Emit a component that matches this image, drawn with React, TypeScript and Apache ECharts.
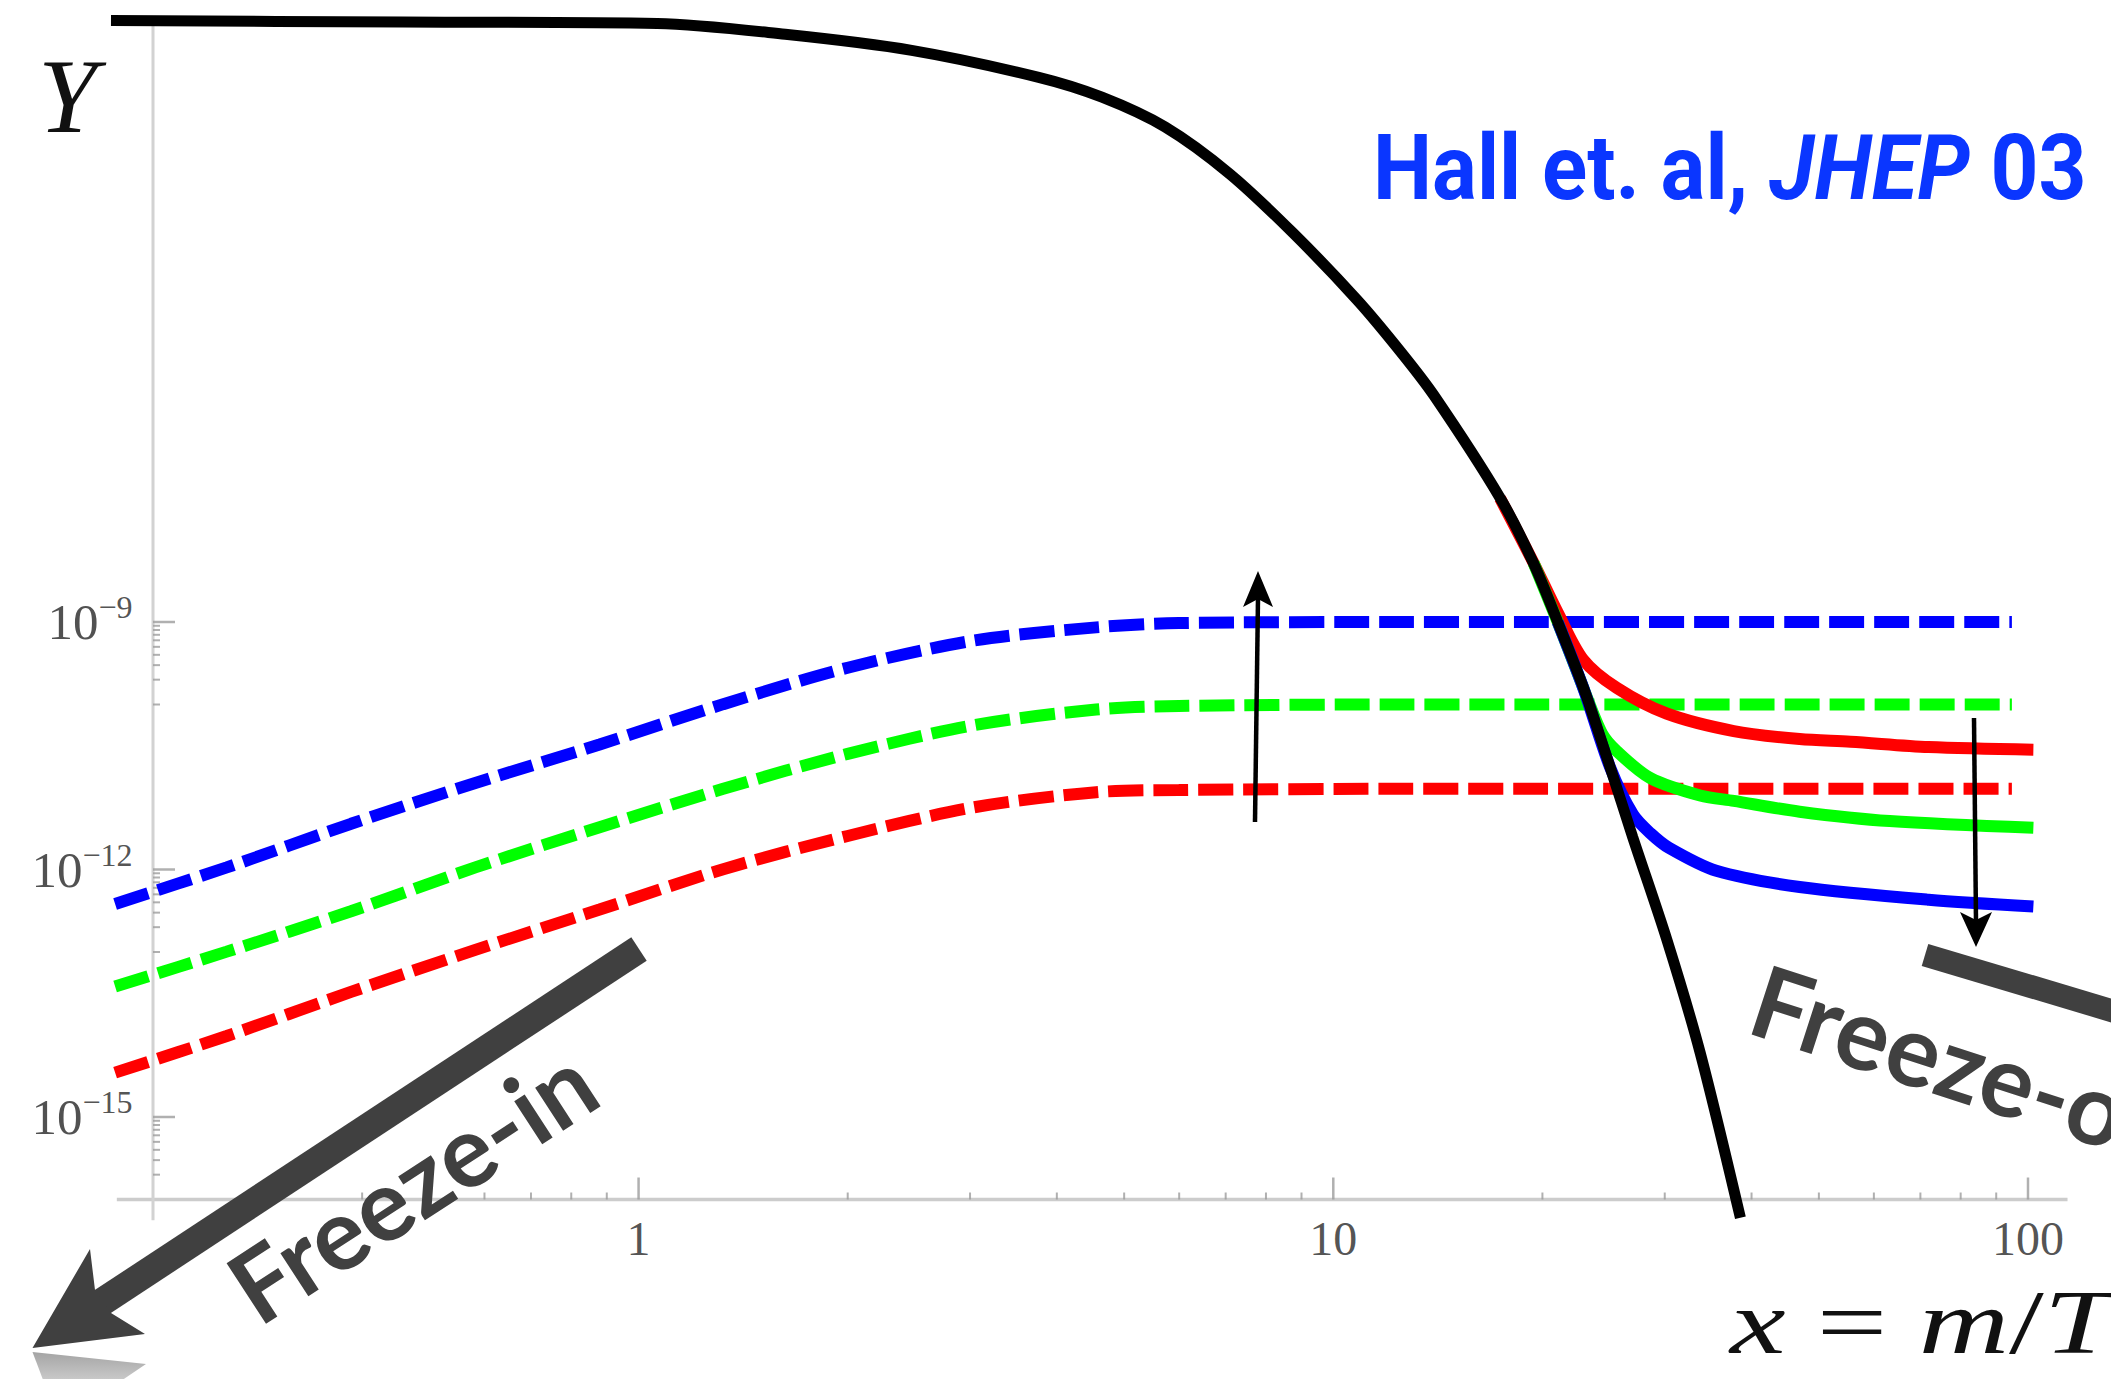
import React, { useEffect, useRef } from "react";
import * as echarts from "echarts";

const WIDTH = 2111;
const HEIGHT = 1379;

// ---------- data (log-log plot) ----------
// equilibrium abundance (black)
const eqX = [0.174, 0.457, 1.064, 1.626, 2.472, 3.767, 4.645, 5.728, 7.096, 8.75, 10.84, 12.5, 13.96, 17.38, 19.41, 21.04, 22.91, 25.0, 26.98, 30.2, 33.73, 38.55];
const eqY = [1.95e-2, 1.87e-2, 1.8e-2, 1.33e-2, 8.5e-3, 4.0e-3, 2.3e-3, 1.0e-3, 2.7e-4, 5.2e-5, 7.9e-6, 1.89e-6, 5.58e-7, 3.2e-8, 5.2e-9, 1.0e-9, 1.6e-10, 1.8e-11, 2.46e-12, 1.42e-13, 6.05e-15, 6.0e-17];

// freeze-in (dashed)
const fiX = [0.1764, 0.2554, 0.3855, 0.5821, 0.8788, 1.324, 2.0, 3.018, 4.556, 5.993, 12.5, 94.8];
const fiBlueY = [3.82e-13, 1.06e-12, 3.58e-12, 1.12e-11, 3.28e-11, 1.01e-10, 2.79e-10, 5.91e-10, 8.61e-10, 9.7e-10, 1.0e-9, 1.0e-9];
const fiGreenY = [3.81e-14, 1.01e-13, 3.12e-13, 1.06e-12, 3.26e-12, 9.5e-12, 2.52e-11, 5.55e-11, 8.71e-11, 9.6e-11, 1.0e-10, 1.0e-10];
const fiRedY = [3.45e-15, 9.6e-15, 3.28e-14, 1.06e-13, 3.27e-13, 1.01e-12, 2.55e-12, 5.62e-12, 8.65e-12, 9.2e-12, 9.5e-12, 9.5e-12];

// freeze-out (solid)
const foRedX = [17.38, 19.42, 21.04, 22.9, 25.59, 30.18, 37.71, 46.91, 55.55, 71.93, 101.8];
const foRedY = [3.16e-8, 5.21e-9, 1.3e-9, 3.49e-10, 1.59e-10, 7.78e-11, 4.77e-11, 3.81e-11, 3.54e-11, 3.05e-11, 2.83e-11];
const foGreenX = [19.42, 21.04, 22.9, 24.37, 25.59, 28.61, 33.73, 37.71, 46.91, 63.22, 101.8];
const foGreenY = [5.21e-9, 1.0e-9, 1.59e-10, 4.44e-11, 2.72e-11, 1.28e-11, 7.89e-12, 6.78e-12, 5.02e-12, 3.86e-12, 3.2e-12];
const foBlueX = [21.04, 22.9, 25.03, 27.0, 28.61, 30.45, 35.59, 46.91, 71.93, 101.8];
const foBlueY = [1.0e-9, 1.59e-10, 1.73e-11, 4.66e-12, 2.75e-12, 1.82e-12, 9.63e-13, 6.14e-13, 4.3e-13, 3.56e-13];

// ticks and tick labels
const xMajorTicks = [1, 10, 100];
const xTickLabels = ["1", "10", "100"];
const xMinorTicks = [0.3, 0.4, 0.5, 0.6, 0.7, 0.8, 0.9, 2, 3, 4, 5, 6, 7, 8, 9, 20, 30, 40, 50, 60, 70, 80, 90];
const yMajorTicks = [1e-9, 1e-12, 1e-15];
const yTickExponents = ["\u22129", "\u221212", "\u221215"];
const yMinorTicks = [
  9e-10, 8e-10, 7e-10, 6e-10, 5e-10, 4e-10, 3e-10, 2e-10, 1e-10,
  9e-13, 8e-13, 7e-13, 6e-13, 5e-13, 4e-13, 3e-13, 2e-13, 1e-13,
  9e-16, 8e-16, 7e-16, 6e-16, 5e-16, 4e-16, 3e-16, 2e-16,
];

// where the drawn axes cross / end
const X_MIN = 0.2; // y axis position
const Y_MIN = 1e-16; // x axis position
const Y_TOP = 0.01722; // top of drawn y axis
const X_LINE_LEFT = 0.1774;
const X_LINE_RIGHT = 114;
const Y_LINE_BOTTOM = 5.6e-17;

// scale extents (a little wider than the drawn axes)
const X_AX_MIN = 0.17;
const X_AX_MAX = 120;
const Y_AX_MIN = 5e-17;
const Y_AX_MAX = 0.025;

export default function App() {
  const ref = useRef<HTMLDivElement>(null);

  useEffect(() => {
    document.body.style.margin = "0";
    const chart = echarts.init(ref.current as HTMLDivElement, undefined, {
      renderer: "svg",
      width: WIDTH,
      height: HEIGHT,
    });
    const zip = (xs: number[], ys: number[]) => xs.map((x, i) => [x, ys[i]]);
    const DEG = Math.PI / 180;
    const serif = "'Liberation Serif', 'Times New Roman', serif";
    const labelColor = "#262626";
    const tickColor = "#9c9c9c";
    const arrowGray = "#404040";

    const lineBase: any = {
      type: "line",
      symbol: "none",
      clip: false,
      silent: true,
      animation: false,
    };
    const tickBase: any = {
      type: "scatter",
      symbol: "rect",
      silent: true,
      clip: false,
      itemStyle: { color: tickColor },
      z: 2,
    };
    const hiddenAxis = {
      axisLine: { show: false },
      axisTick: { show: false },
      axisLabel: { show: false },
      splitLine: { show: false },
    };

    const option: any = {
      animation: false,
      backgroundColor: "#ffffff",
      grid: { left: 103.97, right: 28, top: 11.67, bottom: 154.66, containLabel: false },
      xAxis: { type: "log", logBase: 10, min: X_AX_MIN, max: X_AX_MAX, ...hiddenAxis },
      yAxis: { type: "log", logBase: 10, min: Y_AX_MIN, max: Y_AX_MAX, ...hiddenAxis },
      series: [
        // axis lines
        {
          ...lineBase,
          name: "x axis",
          data: [[X_LINE_LEFT, Y_MIN], [X_LINE_RIGHT, Y_MIN]],
          lineStyle: { color: "#cccccc", width: 3.5 },
          z: 1,
        },
        {
          ...lineBase,
          name: "y axis",
          data: [[X_MIN, Y_LINE_BOTTOM], [X_MIN, Y_TOP]],
          lineStyle: { color: "#d2d2d2", width: 3 },
          z: 1,
        },
        // ticks
        { ...tickBase, symbolSize: [2.5, 22], symbolOffset: [0, -11], data: xMajorTicks.map((v) => [v, Y_MIN]) },
        { ...tickBase, symbolSize: [2, 7], symbolOffset: [0, -3.5], data: xMinorTicks.map((v) => [v, Y_MIN]) },
        { ...tickBase, symbolSize: [22, 2.5], symbolOffset: [11, 0], data: yMajorTicks.map((v) => [X_MIN, v]) },
        { ...tickBase, symbolSize: [7, 2], symbolOffset: [3.5, 0], data: yMinorTicks.map((v) => [X_MIN, v]) },
        // tick labels
        {
          type: "scatter",
          symbolSize: 1,
          silent: true,
          itemStyle: { color: "rgba(0,0,0,0)" },
          data: xMajorTicks.map((v, i) => ({ value: [v, Y_MIN], name: xTickLabels[i] })),
          label: {
            show: true,
            position: "bottom",
            distance: 14,
            formatter: "{b}",
            fontFamily: serif,
            fontSize: 48,
            color: labelColor,
          },
          z: 6,
        },
        {
          type: "scatter",
          symbolSize: 1,
          silent: true,
          itemStyle: { color: "rgba(0,0,0,0)" },
          data: yMajorTicks.map((v, i) => ({ value: [X_MIN, v], name: yTickExponents[i] })),
          label: {
            show: true,
            position: "left",
            distance: 20,
            formatter: (p: any) => "10{sup|" + p.name + "}",
            fontFamily: serif,
            fontSize: 51,
            lineHeight: 62,
            color: labelColor,
            rich: {
              sup: { fontFamily: serif, fontSize: 32, lineHeight: 32, verticalAlign: "top", color: labelColor },
            },
          },
          z: 6,
        },
        // freeze-in (dashed)
        {
          ...lineBase,
          name: "freeze-in blue",
          data: zip(fiX, fiBlueY),
          smooth: 0.3,
          lineStyle: { color: "#0000ff", width: 12, type: [35, 10], cap: "butt" },
          z: 3,
        },
        {
          ...lineBase,
          name: "freeze-in green",
          data: zip(fiX, fiGreenY),
          smooth: 0.3,
          lineStyle: { color: "#00ff00", width: 12, type: [35, 10], cap: "butt" },
          z: 3,
        },
        {
          ...lineBase,
          name: "freeze-in red",
          data: zip(fiX, fiRedY),
          smooth: 0.3,
          lineStyle: { color: "#ff0000", width: 12, type: [35, 10], cap: "butt" },
          z: 3,
        },
        // freeze-out (solid)
        {
          ...lineBase,
          name: "freeze-out red",
          data: zip(foRedX, foRedY),
          smooth: 0.3,
          lineStyle: { color: "#ff0000", width: 12 },
          z: 4,
        },
        {
          ...lineBase,
          name: "freeze-out green",
          data: zip(foGreenX, foGreenY),
          smooth: 0.3,
          lineStyle: { color: "#00ff00", width: 12 },
          z: 4,
        },
        {
          ...lineBase,
          name: "freeze-out blue",
          data: zip(foBlueX, foBlueY),
          smooth: 0.3,
          lineStyle: { color: "#0000ff", width: 12 },
          z: 4,
        },
        // equilibrium (black)
        {
          ...lineBase,
          name: "equilibrium",
          data: zip(eqX, eqY),
          smooth: 0.3,
          lineStyle: { color: "#000000", width: 11 },
          z: 5,
        },
      ],
      graphic: {
        elements: [
          {
            type: "text",
            x: 38,
            y: 96,
            z: 100,
            style: {
              text: "Y",
              fontFamily: serif,
              fontStyle: "italic",
              fontSize: 106,
              fill: "#111111",
              align: "left",
              verticalAlign: "middle",
              textAlign: "left",
              textVerticalAlign: "middle",
            },
          },
          {
            type: "text",
            x: 1373,
            y: 168,
            scaleX: 0.92,
            z: 100,
            style: {
              text: "Hall et. al, {i|JHEP} 03",
              fontFamily: "Roboto, 'Noto Sans', sans-serif",
              fontWeight: "bold",
              fontSize: 91,
              fill: "#0a36ff",
              align: "left",
              verticalAlign: "middle",
              textAlign: "left",
              textVerticalAlign: "middle",
              rich: {
                i: {
                  fontFamily: "Roboto, 'Noto Sans', sans-serif",
                  fontWeight: "bold",
                  fontStyle: "italic",
                  fontSize: 91,
                  fill: "#0a36ff",
                },
              },
            },
          },
          {
            type: "text",
            x: 1730,
            y: 1322,
            scaleX: 1.36,
            z: 100,
            style: {
              text: "{i|x} = {i|m}/{i|T}",
              fontFamily: serif,
              fontSize: 92,
              fill: "#111111",
              align: "left",
              verticalAlign: "middle",
              textAlign: "left",
              textVerticalAlign: "middle",
              rich: {
                i: { fontFamily: serif, fontStyle: "italic", fontSize: 92, fill: "#111111" },
              },
            },
          },
          // Freeze-in arrow
          {
            type: "line",
            z: 90,
            shape: { x1: 639, y1: 949, x2: 99, y2: 1304 },
            style: { stroke: arrowGray, lineWidth: 28, lineCap: "butt" },
          },
          {
            type: "polygon",
            z: 90,
            shape: { points: [[32.5, 1348], [90, 1249], [95, 1290], [111, 1313], [145, 1334]] },
            style: { fill: arrowGray },
          },
          {
            type: "polygon",
            z: 89,
            shape: { points: [[32.5, 1352], [146, 1364], [115, 1385], [45, 1385]] },
            style: {
              fill: {
                type: "linear",
                x: 0,
                y: 0,
                x2: 0,
                y2: 1,
                colorStops: [
                  { offset: 0, color: "#a4a4a4" },
                  { offset: 1, color: "#d0d0d0" },
                ],
              },
            },
          },
          {
            type: "text",
            x: 411,
            y: 1183,
            rotation: 33 * DEG,
            z: 100,
            style: {
              text: "Freeze-in",
              fontFamily: "Lato, 'Open Sans', sans-serif",
              fontWeight: "bold",
              fontSize: 100,
              fill: arrowGray,
              align: "center",
              verticalAlign: "middle",
              textAlign: "center",
              textVerticalAlign: "middle",
            },
          },
          // Freeze-out arrow (cut off at the right edge, as in the reference)
          {
            type: "line",
            z: 90,
            shape: { x1: 1925, y1: 955, x2: 2160, y2: 1025 },
            style: { stroke: arrowGray, lineWidth: 23, lineCap: "butt" },
          },
          {
            type: "text",
            x: 1756,
            y: 995,
            rotation: -18 * DEG,
            z: 100,
            style: {
              text: "Freeze-out",
              fontFamily: "Lato, 'Open Sans', sans-serif",
              fontWeight: "bold",
              fontSize: 100,
              fill: arrowGray,
              align: "left",
              verticalAlign: "middle",
              textAlign: "left",
              textVerticalAlign: "middle",
            },
          },
          // thin black arrows
          {
            type: "line",
            z: 95,
            shape: { x1: 1255, y1: 822, x2: 1258, y2: 598 },
            style: { stroke: "#000000", lineWidth: 4.5 },
          },
          {
            type: "polygon",
            z: 95,
            shape: { points: [[1258, 571], [1243, 607], [1258, 599], [1273, 607]] },
            style: { fill: "#000000" },
          },
          {
            type: "line",
            z: 95,
            shape: { x1: 1974, y1: 718, x2: 1976, y2: 922 },
            style: { stroke: "#000000", lineWidth: 4.5 },
          },
          {
            type: "polygon",
            z: 95,
            shape: { points: [[1976, 947], [1960, 912], [1976, 920], [1992, 912]] },
            style: { fill: "#000000" },
          },
        ],
      },
    };

    chart.setOption(option);
    return () => {
      chart.dispose();
    };
  }, []);

  return (
    <div
      ref={ref}
      style={{ position: "absolute", left: 0, top: 0, width: WIDTH, height: HEIGHT, background: "#ffffff" }}
    />
  );
}
